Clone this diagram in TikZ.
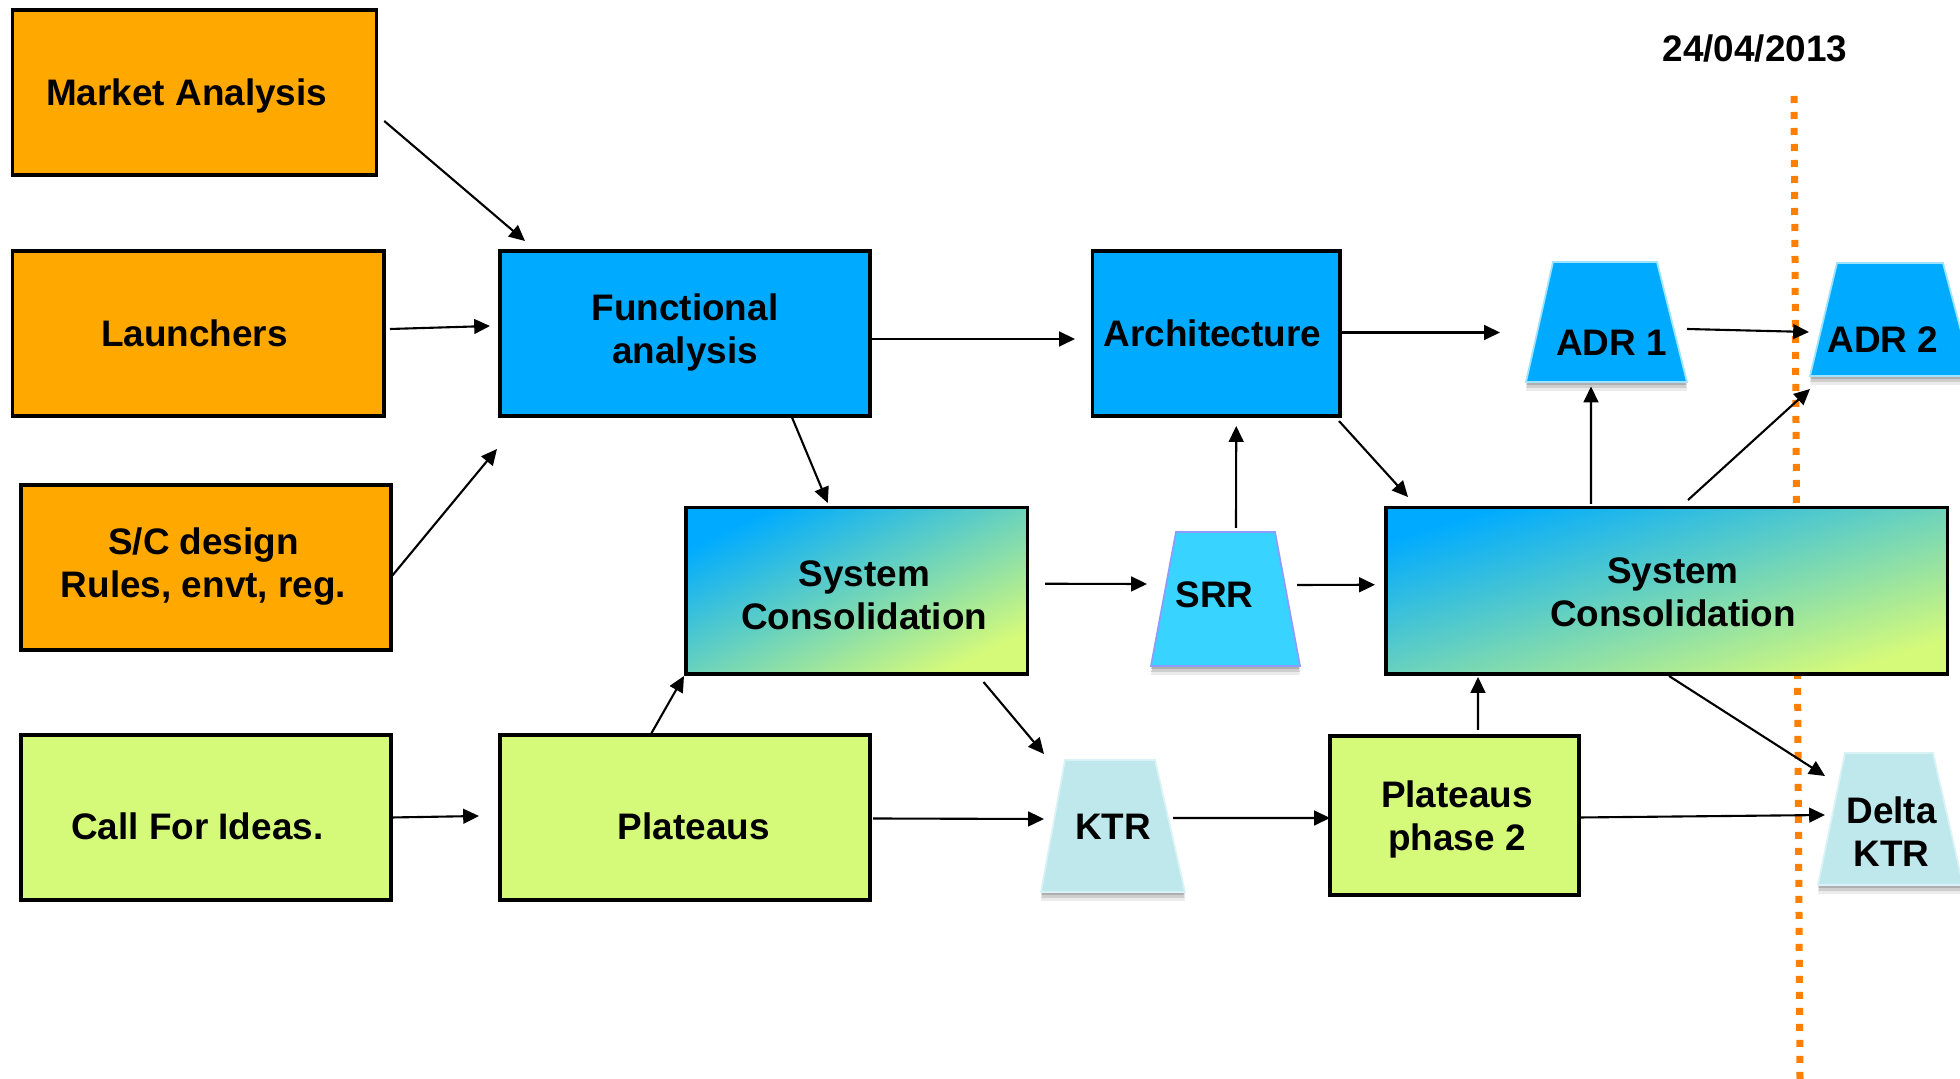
\documentclass[tikz,border=0pt]{standalone}
\usepackage{fontspec}
\usetikzlibrary{arrows.meta}
\newfontfamily\diagfamily{Liberation Sans}
\newcommand\diagfont{\diagfamily\bfseries\fontsize{10.5}{12.1}\selectfont}
% text block moved right by #1/2 and up by #2, without changing its box size
\newcommand\placetext[3]{\kern#1\raisebox{#2}[\height][\depth]{\begin{tabular}{@{}c@{}}#3\end{tabular}}}
\definecolor{orangebox}{HTML}{FFA800}
\definecolor{bluebox}{HTML}{00ABFF}
\definecolor{greenbox}{HTML}{D5FA7A}
\definecolor{srrfill}{HTML}{38D4FF}
\definecolor{srredge}{HTML}{8C9CFF}
\definecolor{adredge}{HTML}{9FE3FF}
\definecolor{ktrfill}{HTML}{BFE8EC}
\definecolor{ktredge}{HTML}{D8F2F5}
\definecolor{dateline}{HTML}{FF8000}
\pgfdeclarelayer{trapbg}
\pgfsetlayers{trapbg,main}
\tikzset{
  box/.style={draw=black, line width=0.9pt, inner sep=0pt, outer sep=0pt, font=\diagfont},
  trapnode/.style={inner sep=0pt, outer sep=0pt, font=\diagfont},
  sz/.style 2 args={minimum width=#1, minimum height=#2},
  gradbox/.style={box, top color=bluebox, bottom color=greenbox, shading angle=#1},
  conn/.style={-{Triangle[length=4.5pt,width=4.2pt]}, line width=0.6pt},
}
\begin{document}
\begin{tikzpicture}[x=0.1mm, y=-0.1mm]
\useasboundingbox (0,0) rectangle (1960,1079);
\begin{pgfonlayer}{trapbg}
  \fill[white] (0,0) rectangle (1960,1079);
\end{pgfonlayer}

% milestone date line (behind the boxes)
\node[font=\diagfont] (date) at (1755,49) {24/04/2013};
\draw[dateline, line width=0.7mm, dash pattern=on 0.7mm off 0.9mm] (1794,96) -- (1800,1079);

% input boxes
\node[box, fill=orangebox, sz={36.4mm}{16.5mm}] (mkt) at (194.25,92.5) {\placetext{-1.5mm}{-0.44mm}{Market Analysis}};
\node[box, fill=orangebox, sz={37.15mm}{16.5mm}] (lau) at (198.25,333.5) {\placetext{-0.75mm}{-0.44mm}{Launchers}};
\node[box, fill=orangebox, sz={37mm}{16.5mm}] (scd) at (206,567.5) {\placetext{-0.5mm}{0mm}{S/C design\\Rules, envt, reg.}};
\node[box, fill=greenbox, sz={37mm}{16.5mm}] (cfi) at (206,817.5) {\placetext{-1.75mm}{-1.3mm}{Call For Ideas.}};

% activities
\node[box, fill=bluebox, sz={37mm}{16.5mm}] (fun) at (685,333.5) {\placetext{0mm}{0mm}{Functional\\analysis}};
\node[box, fill=bluebox, sz={24.75mm}{16.5mm}] (arc) at (1216.25,333.5) {\placetext{-0.75mm}{-0.44mm}{Architecture}};
\node[gradbox=26, sz={34.15mm}{16.65mm}] (sc1) at (856.75,590.75) {\placetext{1.5mm}{-0.85mm}{System\\Consolidation}};
\node[gradbox=17, sz={56.15mm}{16.65mm}] (sc2) at (1666.75,590.75) {\placetext{1.25mm}{-0.6mm}{System\\Consolidation}};
\node[box, fill=greenbox, sz={37mm}{16.5mm}] (pla) at (685,817.5) {\placetext{1.75mm}{-1.3mm}{Plateaus}};
\node[box, fill=greenbox, sz={24.9mm}{15.9mm}] (pl2) at (1454.5,815.5) {\placetext{0.5mm}{-0.5mm}{Plateaus\\phase 2}};

% reviews (trapezoids)
\node[trapnode, sz={16.1mm}{12mm}] (adr1) at (1606.5,322) {\placetext{1mm}{-2.55mm}{ADR 1}};
\node[trapnode, sz={16.3mm}{11.3mm}] (adr2) at (1891.5,319.5) {\placetext{-1.75mm}{-2.5mm}{ADR 2}};
\node[trapnode, sz={14.9mm}{13.4mm}] (srr) at (1225.5,599) {\placetext{-2.2mm}{0mm}{SRR}};
\node[trapnode, sz={14.4mm}{13.2mm}] (ktr) at (1113,826) {\placetext{0mm}{-0.5mm}{KTR}};
\node[trapnode, sz={14.5mm}{13.2mm}] (dktr) at (1890.5,819) {\placetext{0.2mm}{-1.75mm}{Delta\\KTR}};

\begin{pgfonlayer}{trapbg}
  \foreach \nm/\li/\ri/\col/\edg in {adr1/27/30/bluebox/adredge, adr2/27/30/bluebox/adredge,
      srr/25/25/srrfill/srredge, ktr/24/30/ktrfill/ktredge, dktr/27/30/ktrfill/ktredge}{
    \fill[black, opacity=0.08] ([shift={(0,9)}]\nm.south west) -- ([shift={(\li,9)}]\nm.north west)
      -- ([shift={(-\ri,9)}]\nm.north east) -- ([shift={(0,9)}]\nm.south east) -- cycle;
    \fill[black, opacity=0.12] ([shift={(0,6)}]\nm.south west) -- ([shift={(\li,6)}]\nm.north west)
      -- ([shift={(-\ri,6)}]\nm.north east) -- ([shift={(0,6)}]\nm.south east) -- cycle;
    \fill[black, opacity=0.15] ([shift={(0,3)}]\nm.south west) -- ([shift={(\li,3)}]\nm.north west)
      -- ([shift={(-\ri,3)}]\nm.north east) -- ([shift={(0,3)}]\nm.south east) -- cycle;
    \filldraw[fill=\col, draw=\edg, line width=0.5pt] (\nm.south west) -- ([shift={(\li,0)}]\nm.north west)
      -- ([shift={(-\ri,0)}]\nm.north east) -- (\nm.south east) -- cycle;
  }
\end{pgfonlayer}

% connectors
\draw[conn] ([shift={(8,28.5)}]mkt.east) -- ([shift={(25,-10)}]fun.north west);
\draw[conn] ([shift={(6,-4.5)}]lau.east) -- ([shift={(-10,-7.5)}]fun.west);
\draw[conn] ([shift={(1,8.5)}]scd.east) -- ([shift={(-3,33)}]fun.south west);
\draw[conn] (cfi.east) -- ([shift={(-21,-1.5)}]pla.west);
\draw[conn] ([shift={(-79,-1)}]fun.south east) -- ([shift={(-29,-4.5)}]sc1.north);
\draw[conn] ([shift={(0,5.5)}]fun.east) -- ([shift={(-17.5,5.5)}]arc.west);
\draw[conn] ([shift={(0,-1)}]arc.east) -- ([shift={(-26,10.5)}]adr1.west);
\draw[conn] ([shift={(0,7)}]adr1.east) -- ([shift={(-1,12.5)}]adr2.west);
\draw[conn] ([shift={(-1,5)}]arc.south east) -- ([shift={(22,-10.5)}]sc2.north west);
\draw[conn] ([shift={(10.5,-4)}]srr.north) -- ([shift={(20,10)}]arc.south);
\draw[conn] ([shift={(17.5,-7)}]sc1.east) -- ([shift={(-4,-15)}]srr.west);
\draw[conn] ([shift={(-3,-14)}]srr.east) -- ([shift={(-11,-6)}]sc2.west);
\draw[conn] ([shift={(205,-3.5)}]sc2.north west) -- ([shift={(-15.5,4.5)}]adr1.south);
\draw[conn] ([shift={(302,-7.5)}]sc2.north west) -- ([shift={(0,13)}]adr2.south west);
\draw[conn] ([shift={(-34,-1)}]pla.north) -- ([shift={(-2,2)}]sc1.south west);
\draw[conn] ([shift={(-44,8)}]sc1.south east) -- ([shift={(3,-6)}]ktr.north west);
\draw[conn] ([shift={(3,1)}]pla.east) -- ([shift={(3,-7)}]ktr.west);
\draw[conn] ([shift={(-12,-8)}]ktr.east) -- ([shift={(0,2.5)}]pl2.west);
\draw[conn] ([shift={(23.5,-6)}]pl2.north) -- ([shift={(92,3)}]sc2.south west);
\draw[conn] ([shift={(283,2)}]sc2.south west) -- ([shift={(7,-43)}]dktr.west);
\draw[conn] ([shift={(0,2)}]pl2.east) -- ([shift={(7,-4)}]dktr.west);
\end{tikzpicture}
\end{document}
